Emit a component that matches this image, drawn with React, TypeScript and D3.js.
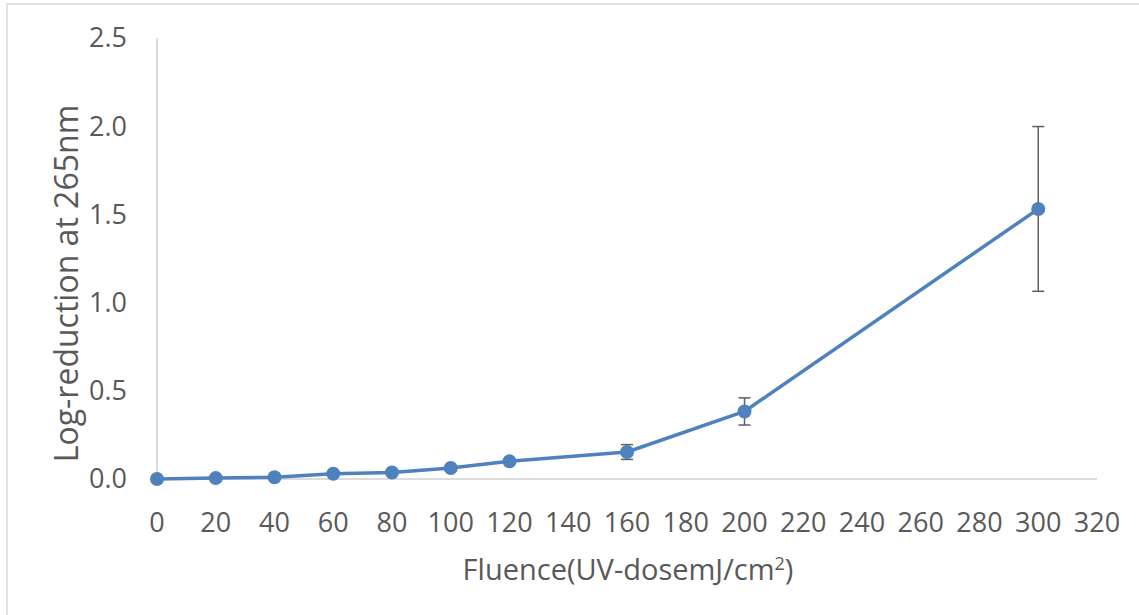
import React from 'react';
import * as d3 from 'd3';

// values
const fluence = [0, 20, 40, 60, 80, 100, 120, 160, 200, 300];
const logReduction = [0.0, 0.005, 0.01, 0.03, 0.037, 0.062, 0.1, 0.153, 0.383, 1.531];
const errorSize = [0.003, 0.004, 0.005, 0.008, 0.008, 0.01, 0.012, 0.042, 0.077, 0.467];
const xTicks = [0, 20, 40, 60, 80, 100, 120, 140, 160, 180, 200, 220, 240, 260, 280, 300, 320];
const yTicks = [0, 0.5, 1.0, 1.5, 2.0, 2.5];

const width = 1139;
const height = 615;
const margin = { top: 38, right: 42, bottom: 136, left: 157 };

const textColor = '#595959';
const axisColor = '#d0d0d0';
const lineColor = '#4f81bd';
const font = '"Open Sans", sans-serif';
const tickSize = 27;
const titleSize = 29;

const App = () => {
  const x = d3.scaleLinear().domain([0, 320]).range([margin.left, width - margin.right]);
  const y = d3.scaleLinear().domain([0, 2.5]).range([height - margin.bottom, margin.top]);

  const points = fluence.map((f, i) => ({ f, v: logReduction[i], e: errorSize[i] }));
  const line = d3.line<{ f: number; v: number }>()
    .x(d => x(d.f))
    .y(d => y(d.v));

  const capHalf = 6;

  return (
    <svg
      width={width}
      height={height}
      style={{ position: 'absolute', left: 0, top: 0, background: '#fff' }}
      fontFamily={font}
    >
      <rect x={7} y={4} width={width + 10} height={height + 10} fill="none" stroke="#d9d9d9" strokeWidth={1.5} />

      {/* axes */}
      <line x1={x(0)} x2={x(0)} y1={y(2.5)} y2={y(0)} stroke={axisColor} strokeWidth={1.5} />
      <line x1={x(0)} x2={x(320)} y1={y(0)} y2={y(0)} stroke={axisColor} strokeWidth={1.5} />

      {yTicks.map(t => (
        <text key={'y' + t} x={127} y={y(t)} dy="0.35em" textAnchor="end" fontSize={tickSize} fill={textColor}>
          {d3.format('.1f')(t)}
        </text>
      ))}
      {xTicks.map(t => (
        <text key={'x' + t} x={x(t)} y={532} textAnchor="middle" fontSize={tickSize} fill={textColor}>
          {t}
        </text>
      ))}

      <text
        transform={`translate(78,${283.5}) rotate(-90)`}
        textAnchor="middle"
        fontSize={32}
        fill={textColor}
      >
        Log-reduction at 265nm
      </text>
      <text x={628} y={580} textAnchor="middle" fontSize={titleSize} fill={textColor}>
        Fluence(UV-dosemJ/cm<tspan fontSize={18} dy={-10}>2</tspan><tspan dy={10}>)</tspan>
      </text>

      {/* series */}
      <path d={line(points) ?? ''} fill="none" stroke={lineColor} strokeWidth={3.5} strokeLinejoin="round" />

      {points.map(p => (
        <g key={'e' + p.f} stroke="#5f5f5f" strokeWidth={1.5}>
          <line x1={x(p.f)} x2={x(p.f)} y1={y(p.v - p.e)} y2={y(p.v + p.e)} />
          <line x1={x(p.f) - capHalf} x2={x(p.f) + capHalf} y1={y(p.v + p.e)} y2={y(p.v + p.e)} />
          <line x1={x(p.f) - capHalf} x2={x(p.f) + capHalf} y1={y(p.v - p.e)} y2={y(p.v - p.e)} />
        </g>
      ))}

      {points.map(p => (
        <circle key={'c' + p.f} cx={x(p.f)} cy={y(p.v)} r={7} fill={lineColor} />
      ))}
    </svg>
  );
};

export default App;
